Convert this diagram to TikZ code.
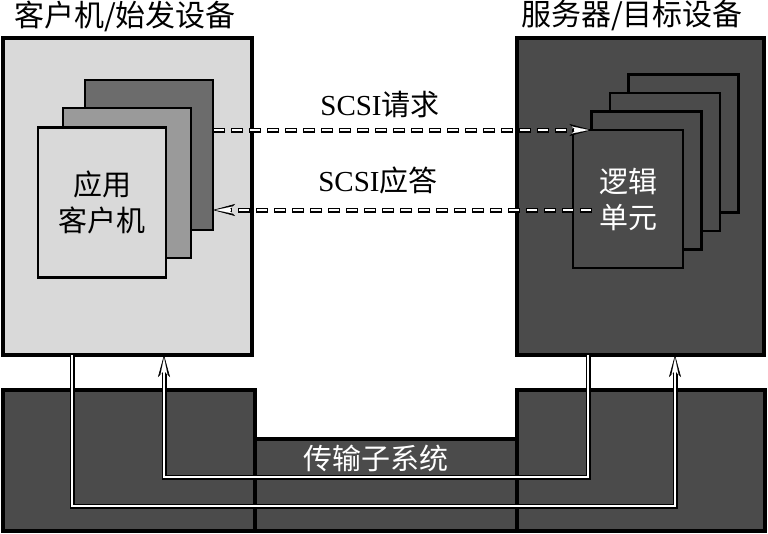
\documentclass[tikz,border=0pt]{standalone}
\usepackage{fontspec}
\setmainfont{Liberation Serif}
\newfontfamily\cjk{Noto Sans CJK SC}
\usetikzlibrary{arrows.meta}
\definecolor{lgray}{HTML}{D9D9D9}
\definecolor{dgray}{HTML}{4B4B4B}
\definecolor{mgray}{HTML}{9A9A9A}
\definecolor{cgray}{HTML}{6C6C6C}
\begin{document}
\begin{tikzpicture}[x=1pt,y=-1pt,
  box/.style={draw=black,line width=3.5pt,inner sep=0pt,outer sep=0pt},
  card/.style={draw=black,line width=2.5pt,inner sep=0pt,outer sep=0pt,
    minimum width=#1,minimum height=150pt},
  rcard/.style={draw=black,line width=2.5pt,inner sep=0pt,outer sep=0pt,fill=dgray,
    minimum width=110pt,minimum height=138pt},
  lbl/.style={font=\cjk\fontsize{29}{36}\selectfont,inner sep=0pt,align=center},
  title/.style={font=\cjk\fontsize{30}{32}\selectfont,inner sep=0pt},
  tipB/.style={-{Stealth[length=22pt,width=12pt,inset=6pt,line width=0.6pt]}},
  tipW/.style={-{Stealth[length=17pt,width=7pt,inset=4.5pt,line width=0.1pt]},shorten >=2.8pt},
  outerB/.style={draw=black,line width=5pt},
  innerW/.style={draw=white,line width=2.2pt},
  dashB/.style={draw=black,line width=5pt,dash pattern=on 12pt off 6pt},
  dashW/.style={draw=white,line width=2.2pt,dash pattern=on 10pt off 8pt,dash phase=17pt}
]
\useasboundingbox (0,0) rectangle (768,533);

% titles
\node[title] (t1) at (125,16) {客户机/始发设备};
\node[title] (t2) at (632,16) {服务器/目标设备};

% device boxes
\node[box,fill=lgray,minimum width=249pt,minimum height=317pt] (leftbox) at (127.5,196.5) {};
\node[box,fill=dgray,minimum width=247pt,minimum height=317pt] (rightbox) at (640.5,196.5) {};

% left cards
\node[card=128pt,fill=cgray] (lc3) at (149,155) {};
\node[card=128pt,fill=mgray] (lc2) at (127,183) {};
\node[card=128pt,fill=lgray,lbl] (lc1) at (102,202.5) {应用\\客户机};

% right cards
\node[rcard] (rc4) at (683.5,143.5) {};
\node[rcard] (rc3) at (665,162) {};
\node[rcard] (rc2) at (646.5,180.5) {};
\node[rcard,lbl,text=white] (rc1) at (628,199) {逻辑\\单元};

% transport subsystem
\node[box,fill=dgray,minimum width=252pt,minimum height=141pt] (lbot) at (129,460.5) {};
\node[box,fill=dgray,minimum width=248pt,minimum height=141pt] (rbot) at (641,460.5) {};
\node[box,fill=dgray,minimum width=262pt,minimum height=92pt] (mbot) at (386,485) {};
\node[lbl,text=white] (mlab) at (376,458) {传输子系统};

% message labels
\node[lbl] (req) at (380,105) {{\rmfamily SCSI}请求};
\node[lbl] (resp) at (378,180) {{\rmfamily SCSI}应答};

% SCSI request (dashed)
\draw[dashB,tipB] ([yshift=25pt]lc3.east) -- ([yshift=25pt]lc3.east -| rc2.west);
\draw[dashW,tipW] ([yshift=25pt]lc3.east) -- ([yshift=25pt]lc3.east -| rc2.west);

% SCSI response (dashed)
\draw[dashB,tipB] ([yshift=-55pt]lc3.east -| rc2.west) -- ([yshift=-55pt]lc3.east);
\draw[dashW,tipW] ([yshift=-55pt]lc3.east -| rc2.west) -- ([yshift=-55pt]lc3.east);

% transport paths
\draw[outerB,tipB] ([xshift=-55.5pt]leftbox.south) -- ++(0,151) -| ([xshift=34.5pt]rightbox.south);
\draw[innerW,tipW] ([xshift=-55.5pt]leftbox.south) -- ++(0,151) -| ([xshift=34.5pt]rightbox.south);

\draw[outerB,tipB] ([xshift=-52.5pt]rightbox.south) -- ++(0,122) -| ([xshift=36.5pt]leftbox.south);
\draw[innerW,tipW] ([xshift=-52.5pt]rightbox.south) -- ++(0,122) -| ([xshift=36.5pt]leftbox.south);
\end{tikzpicture}
\end{document}
